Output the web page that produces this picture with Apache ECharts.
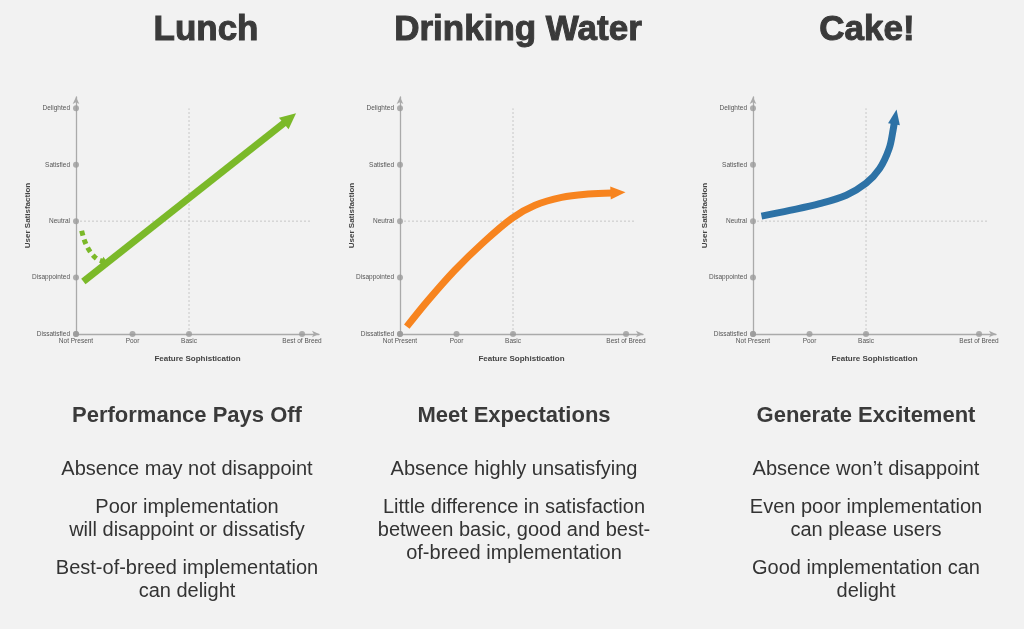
<!DOCTYPE html>
<html>
<head>
<meta charset="utf-8">
<script src="https://cdn.jsdelivr.net/npm/echarts@6/dist/echarts.min.js"></script>
<style>
html,body{margin:0;padding:0;background:#f2f2f2;}
#c{width:1024px;height:629px;}
</style>
</head>
<body>
<div id="c"></div>
<script>
// ---------- data ----------
const chartTitles = ['Lunch', 'Drinking Water', 'Cake!'];
const subTitles = ['Performance Pays Off', 'Meet Expectations', 'Generate Excitement'];
const descriptions = [
  [['Absence may not disappoint'], ['Poor implementation', 'will disappoint or dissatisfy'], ['Best-of-breed implementation', 'can delight']],
  [['Absence highly unsatisfying'], ['Little difference in satisfaction', 'between basic, good and best-', 'of-breed implementation']],
  [['Absence won\u2019t disappoint'], ['Even poor implementation', 'can please users'], ['Good implementation can', 'delight']]
];
const xTickLabels = ['Not Present', 'Poor', 'Basic', 'Best of Breed'];
const xTickValues = [0, 1, 2, 4];
const yTickLabels = ['Dissatisfied', 'Disappointed', 'Neutral', 'Satisfied', 'Delighted'];
const yTickValues = [0, 1, 2, 3, 4];
const xAxisTitle = 'Feature Sophistication';
const yAxisTitle = 'User Satisfaction';
const guideBasic = [[2, 0], [2, 4]];
const guideNeutral = [[0, 2], [4.16, 2]];

// Lunch
const lunchLine = [[0.13, 0.93], [3.76, 3.80]];
const lunchTip = [3.894, 3.912];
const lunchDashed = [[0.10, 1.83], [0.16, 1.63], [0.25, 1.46], [0.37, 1.33], [0.47, 1.29]];
const lunchDashedTip = [0.57, 1.25];
// Drinking water
const waterCurve = [[0.12, 0.13], [0.50, 0.60], [0.97, 1.13], [1.45, 1.60], [1.98, 2.05], [2.39, 2.28], [2.86, 2.42], [3.33, 2.48], [3.75, 2.50]];
const waterTip = [3.99, 2.51];
// Cake
const cakeCurve = [[0.15, 2.09], [0.65, 2.19], [1.18, 2.31], [1.65, 2.46], [2.0, 2.67], [2.24, 2.93], [2.41, 3.29], [2.48, 3.62], [2.505, 3.78]];
const cakeTip = [2.54, 3.98];

// ---------- styles ----------
const GREEN = '#7bb929', ORANGE = '#f7841f', BLUE = '#2d72a6';
const gridLefts = [76, 400, 753];
const narrow = '"Liberation Sans Narrow", "Liberation Sans", sans-serif';
const sans = '"Liberation Sans", Arial, sans-serif';

const xLabelMap = {}; xTickValues.forEach((v, i) => xLabelMap[v] = xTickLabels[i]);
const yLabelMap = {}; yTickValues.forEach((v, i) => yLabelMap[v] = yTickLabels[i]);

const grids = [], xAxes = [], yAxes = [], series = [];
gridLefts.forEach((left, i) => {
  grids.push({ left: left, top: 97, width: 243, height: 237 });
  xAxes.push({
    type: 'value', gridIndex: i, min: 0, max: 4.3, interval: 1,
    name: xAxisTitle, nameLocation: 'middle', nameGap: 21, nameMoveOverlap: false,
    nameTextStyle: { fontFamily: sans, fontWeight: 'bold', fontSize: 8, color: '#444' },
    axisLine: { show: true, lineStyle: { color: '#aaa', width: 1.3 }, symbol: ['none', 'arrow'], symbolSize: [5, 7] },
    axisTick: { show: false }, splitLine: { show: false },
    axisLabel: { margin: 4, fontFamily: narrow, fontSize: 6.5, color: '#555',
      formatter: v => (xLabelMap[v] !== undefined ? xLabelMap[v] : ''), showMaxLabel: true, showMinLabel: true, hideOverlap: false }
  });
  yAxes.push({
    type: 'value', gridIndex: i, min: 0, max: 4.2, interval: 1,
    name: yAxisTitle, nameLocation: 'middle', nameGap: 44, nameMoveOverlap: false,
    nameTextStyle: { fontFamily: sans, fontWeight: 'bold', fontSize: 8, color: '#444' },
    axisLine: { show: true, lineStyle: { color: '#aaa', width: 1.3 }, symbol: ['none', 'arrow'], symbolSize: [5, 7] },
    axisTick: { show: false }, splitLine: { show: false },
    axisLabel: { margin: 6, fontFamily: narrow, fontSize: 6.5, color: '#555',
      formatter: v => (yLabelMap[v] !== undefined ? yLabelMap[v] : '') }
  });
  // guide lines
  [guideBasic, guideNeutral].forEach(g => series.push({
    type: 'line', xAxisIndex: i, yAxisIndex: i, data: g, symbol: 'none', silent: true,
    lineStyle: { color: '#c8c8c8', width: 1, type: [2, 2] }, z: 1
  }));
  // tick dots
  series.push({
    type: 'scatter', xAxisIndex: i, yAxisIndex: i, symbolSize: 6, silent: true,
    itemStyle: { color: '#9b9b9b' }, z: 3, clip: false,
    data: xTickValues.map(v => [v, 0]).concat(yTickValues.map(v => [0, v]))
  });
});

function curve(idx, data, color, width, dash) {
  series.push({
    type: 'line', xAxisIndex: idx, yAxisIndex: idx, data: data, symbol: 'none', smooth: 0.35,
    silent: true, z: 5, clip: false,
    lineStyle: { color: color, width: width, type: dash || 'solid', cap: 'butt' }
  });
}
function arrowHead(idx, from, tip, color, len, half) {
  series.push({
    type: 'custom', xAxisIndex: idx, yAxisIndex: idx, silent: true, z: 6, clip: false,
    data: [[from[0], from[1], tip[0], tip[1]]],
    renderItem: function (params, api) {
      const a = api.coord([api.value(0), api.value(1)]);
      const b = api.coord([api.value(2), api.value(3)]);
      let dx = b[0] - a[0], dy = b[1] - a[1];
      const l = Math.sqrt(dx * dx + dy * dy) || 1; dx /= l; dy /= l;
      const nx = -dy, ny = dx;
      const bx = b[0] - dx * len, by = b[1] - dy * len;
      return { type: 'polygon', shape: { points: [b, [bx + nx * half, by + ny * half], [bx - nx * half, by - ny * half]] },
        style: { fill: color } };
    }
  });
}
curve(0, lunchLine, GREEN, 7);
arrowHead(0, lunchLine[lunchLine.length - 1], lunchTip, GREEN, 16, 7.5);
curve(0, lunchDashed, GREEN, 5, [5, 4]);
arrowHead(0, lunchDashed[lunchDashed.length - 1], lunchDashedTip, GREEN, 7, 4.5);
curve(1, waterCurve, ORANGE, 7);
arrowHead(1, waterCurve[waterCurve.length - 1], waterTip, ORANGE, 15, 6.5);
curve(2, cakeCurve, BLUE, 7);
arrowHead(2, cakeCurve[cakeCurve.length - 1], cakeTip, BLUE, 15, 6);

// ---------- texts ----------
const titleX = [206, 518, 867];
const colX = [187, 514, 866];
const graphic = [];
chartTitles.forEach((t, i) => graphic.push({
  type: 'text', x: titleX[i], y: 30, silent: true,
  style: { text: t, fill: '#3a3a3a', font: 'bold 35px ' + sans, align: 'center', verticalAlign: 'middle',
    textAlign: 'center', textVerticalAlign: 'middle', stroke: '#3a3a3a', lineWidth: 1 }
}));
subTitles.forEach((t, i) => graphic.push({
  type: 'text', x: colX[i], y: 416, silent: true,
  style: { text: t, fill: '#3a3a3a', font: 'bold 22px ' + sans, align: 'center', verticalAlign: 'middle',
    textAlign: 'center', textVerticalAlign: 'middle' }
}));
descriptions.forEach((paras, i) => {
  let y = 469;
  paras.forEach(lines => {
    lines.forEach(line => {
      graphic.push({
        type: 'text', x: colX[i], y: y, silent: true,
        style: { text: line, fill: '#333', font: '20px ' + sans, align: 'center', verticalAlign: 'middle',
          textAlign: 'center', textVerticalAlign: 'middle' }
      });
      y += 23;
    });
    y += 15;
  });
});

const chart = echarts.init(document.getElementById('c'));
chart.setOption({
  backgroundColor: '#f2f2f2',
  animation: false,
  grid: grids, xAxis: xAxes, yAxis: yAxes, series: series, graphic: graphic
});
</script>
</body>
</html>
